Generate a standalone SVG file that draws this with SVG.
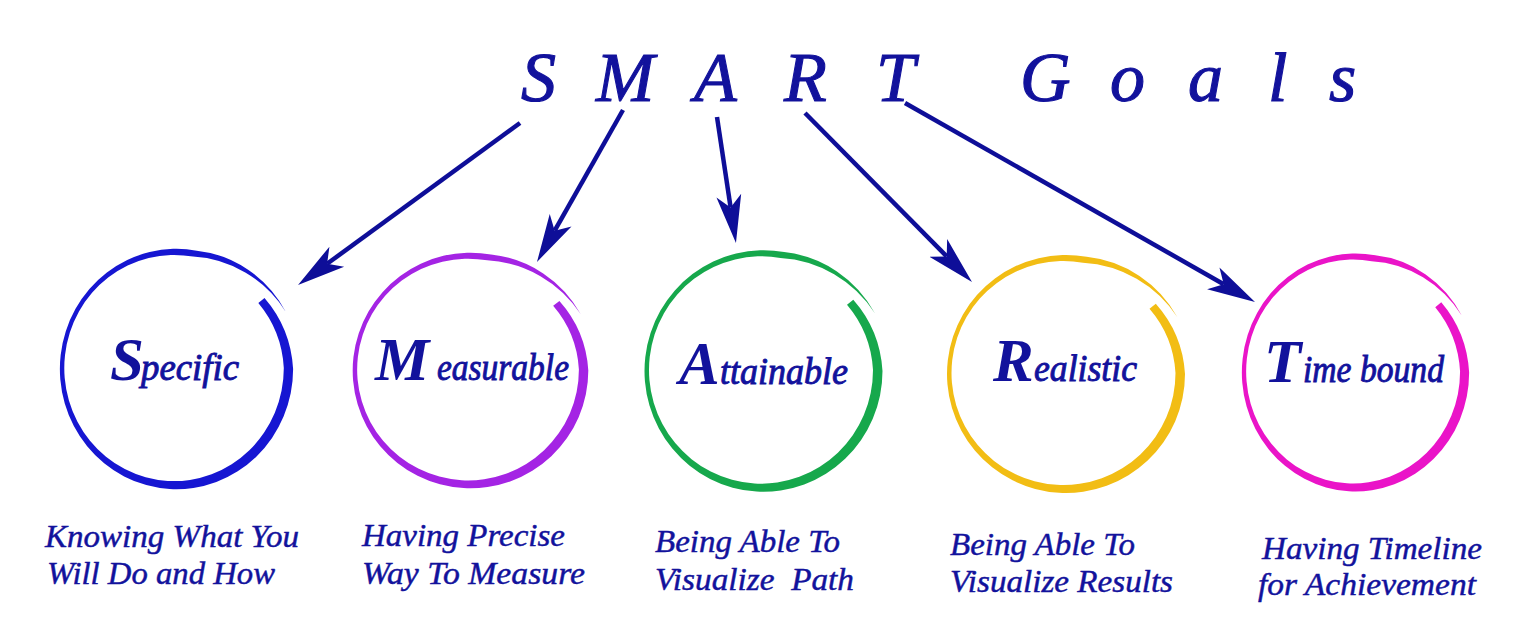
<svg xmlns="http://www.w3.org/2000/svg" width="1517" height="640" viewBox="0 0 1517 640">
<style>
  .t { font-family: "Liberation Serif", "Times New Roman", serif; fill: #12129c; font-style: italic; }
  .title { font-size: 70px; stroke: #12129c; stroke-width: 1.1px; }
  .cap { font-size: 61px; font-weight: bold; }
  .low { font-size: 37px; stroke: #12129c; stroke-width: 0.9px; }
  .desc { font-size: 32px; stroke: #12129c; stroke-width: 0.45px; }
  .conn { stroke: #0e0e98; stroke-width: 4.5; fill: none; marker-end: url(#head); }
</style>
<defs>
  <marker id="head" markerUnits="userSpaceOnUse" markerWidth="50" markerHeight="30" viewBox="0 -15 50 30" refX="12" refY="0" orient="auto">
    <path d="M48,0 L0,-12.5 L12,0 L0,12.5 Z" fill="#0e0e98"/>
  </marker>
  <path id="ring" d="M89.8,-70.2 A116 116 0 0 1 119,0 A119 119 0 1 1 20.7,-117.2 A118 118 0 0 1 111.4,-56.8 A121 121 0 0 0 16.9,-111.3 A112 112 0 1 0 109.5,-1 A108 108 0 0 0 83.5,-65.3 Z"/>
</defs>
<rect width="1517" height="640" fill="#ffffff"/>

<g id="title">
  <text class="t title" y="101" x="521 560 596 660 694 740 784 830 876 920 1020 1070 1110 1145 1188 1225 1268 1295 1329">S M A R T G o a l s</text>
</g>

<g id="connectors">
  <line class="conn" x1="520" y1="123" x2="327.1" y2="263.8"/>
  <line class="conn" x1="623" y1="110" x2="554.7" y2="230.7"/>
  <line class="conn" x1="717" y1="117" x2="730.6" y2="207.4"/>
  <line class="conn" x1="805" y1="113" x2="946.7" y2="256.4"/>
  <line class="conn" x1="905" y1="103" x2="1223.7" y2="284.2"/>
</g>

<g id="node-specific">
  <use href="#ring" fill="#1616d2" transform="translate(176.5,369) scale(0.98,1.01)"/>
  <text class="t" y="380"><tspan class="cap" x="110">S</tspan><tspan class="low" x="141" textLength="98" lengthAdjust="spacingAndGlyphs">pecific</tspan></text>
  <text class="t desc" x="45" y="547" textLength="254" lengthAdjust="spacingAndGlyphs">Knowing What You</text>
  <text class="t desc" x="47" y="584" textLength="228" lengthAdjust="spacingAndGlyphs">Will Do and How</text>
</g>

<g id="node-measurable">
  <use href="#ring" fill="#a424e4" transform="translate(470.5,370.5) scale(0.99,0.99)"/>
  <text class="t" y="380"><tspan class="cap" x="375">M</tspan><tspan class="low" x="437" textLength="132" lengthAdjust="spacingAndGlyphs">easurable</tspan></text>
  <text class="t desc" x="362" y="546" textLength="203" lengthAdjust="spacingAndGlyphs">Having Precise</text>
  <text class="t desc" x="362" y="584" textLength="223" lengthAdjust="spacingAndGlyphs">Way To Measure</text>
</g>

<g id="node-attainable">
  <use href="#ring" fill="#16a84c" transform="translate(763.5,371) scale(1,1.015)"/>
  <text class="t" y="384"><tspan class="cap" x="679">A</tspan><tspan class="low" x="720" textLength="128" lengthAdjust="spacingAndGlyphs">ttainable</tspan></text>
  <text class="t desc" x="655" y="552" textLength="185" lengthAdjust="spacingAndGlyphs">Being Able To</text>
  <text class="t desc" x="655" y="590" textLength="199" lengthAdjust="spacingAndGlyphs" xml:space="preserve">Visualize  Path</text>
</g>

<g id="node-realistic">
  <use href="#ring" fill="#f2bd14" transform="translate(1066,374) scale(1,1)"/>
  <text class="t" y="381"><tspan class="cap" x="993">R</tspan><tspan class="low" x="1034" textLength="103" lengthAdjust="spacingAndGlyphs">ealistic</tspan></text>
  <text class="t desc" x="950" y="555" textLength="185" lengthAdjust="spacingAndGlyphs">Being Able To</text>
  <text class="t desc" x="950" y="592" textLength="223" lengthAdjust="spacingAndGlyphs">Visualize Results</text>
</g>

<g id="node-timebound">
  <use href="#ring" fill="#ea14c8" transform="translate(1355.5,372.5) scale(0.955,1)"/>
  <text class="t" y="382"><tspan class="cap" x="1264">T</tspan><tspan class="low" x="1303" textLength="141" lengthAdjust="spacingAndGlyphs">ime bound</tspan></text>
  <text class="t desc" x="1262" y="559" textLength="220" lengthAdjust="spacingAndGlyphs">Having Timeline</text>
  <text class="t desc" x="1258" y="595" textLength="218" lengthAdjust="spacingAndGlyphs">for Achievement</text>
</g>
</svg>
